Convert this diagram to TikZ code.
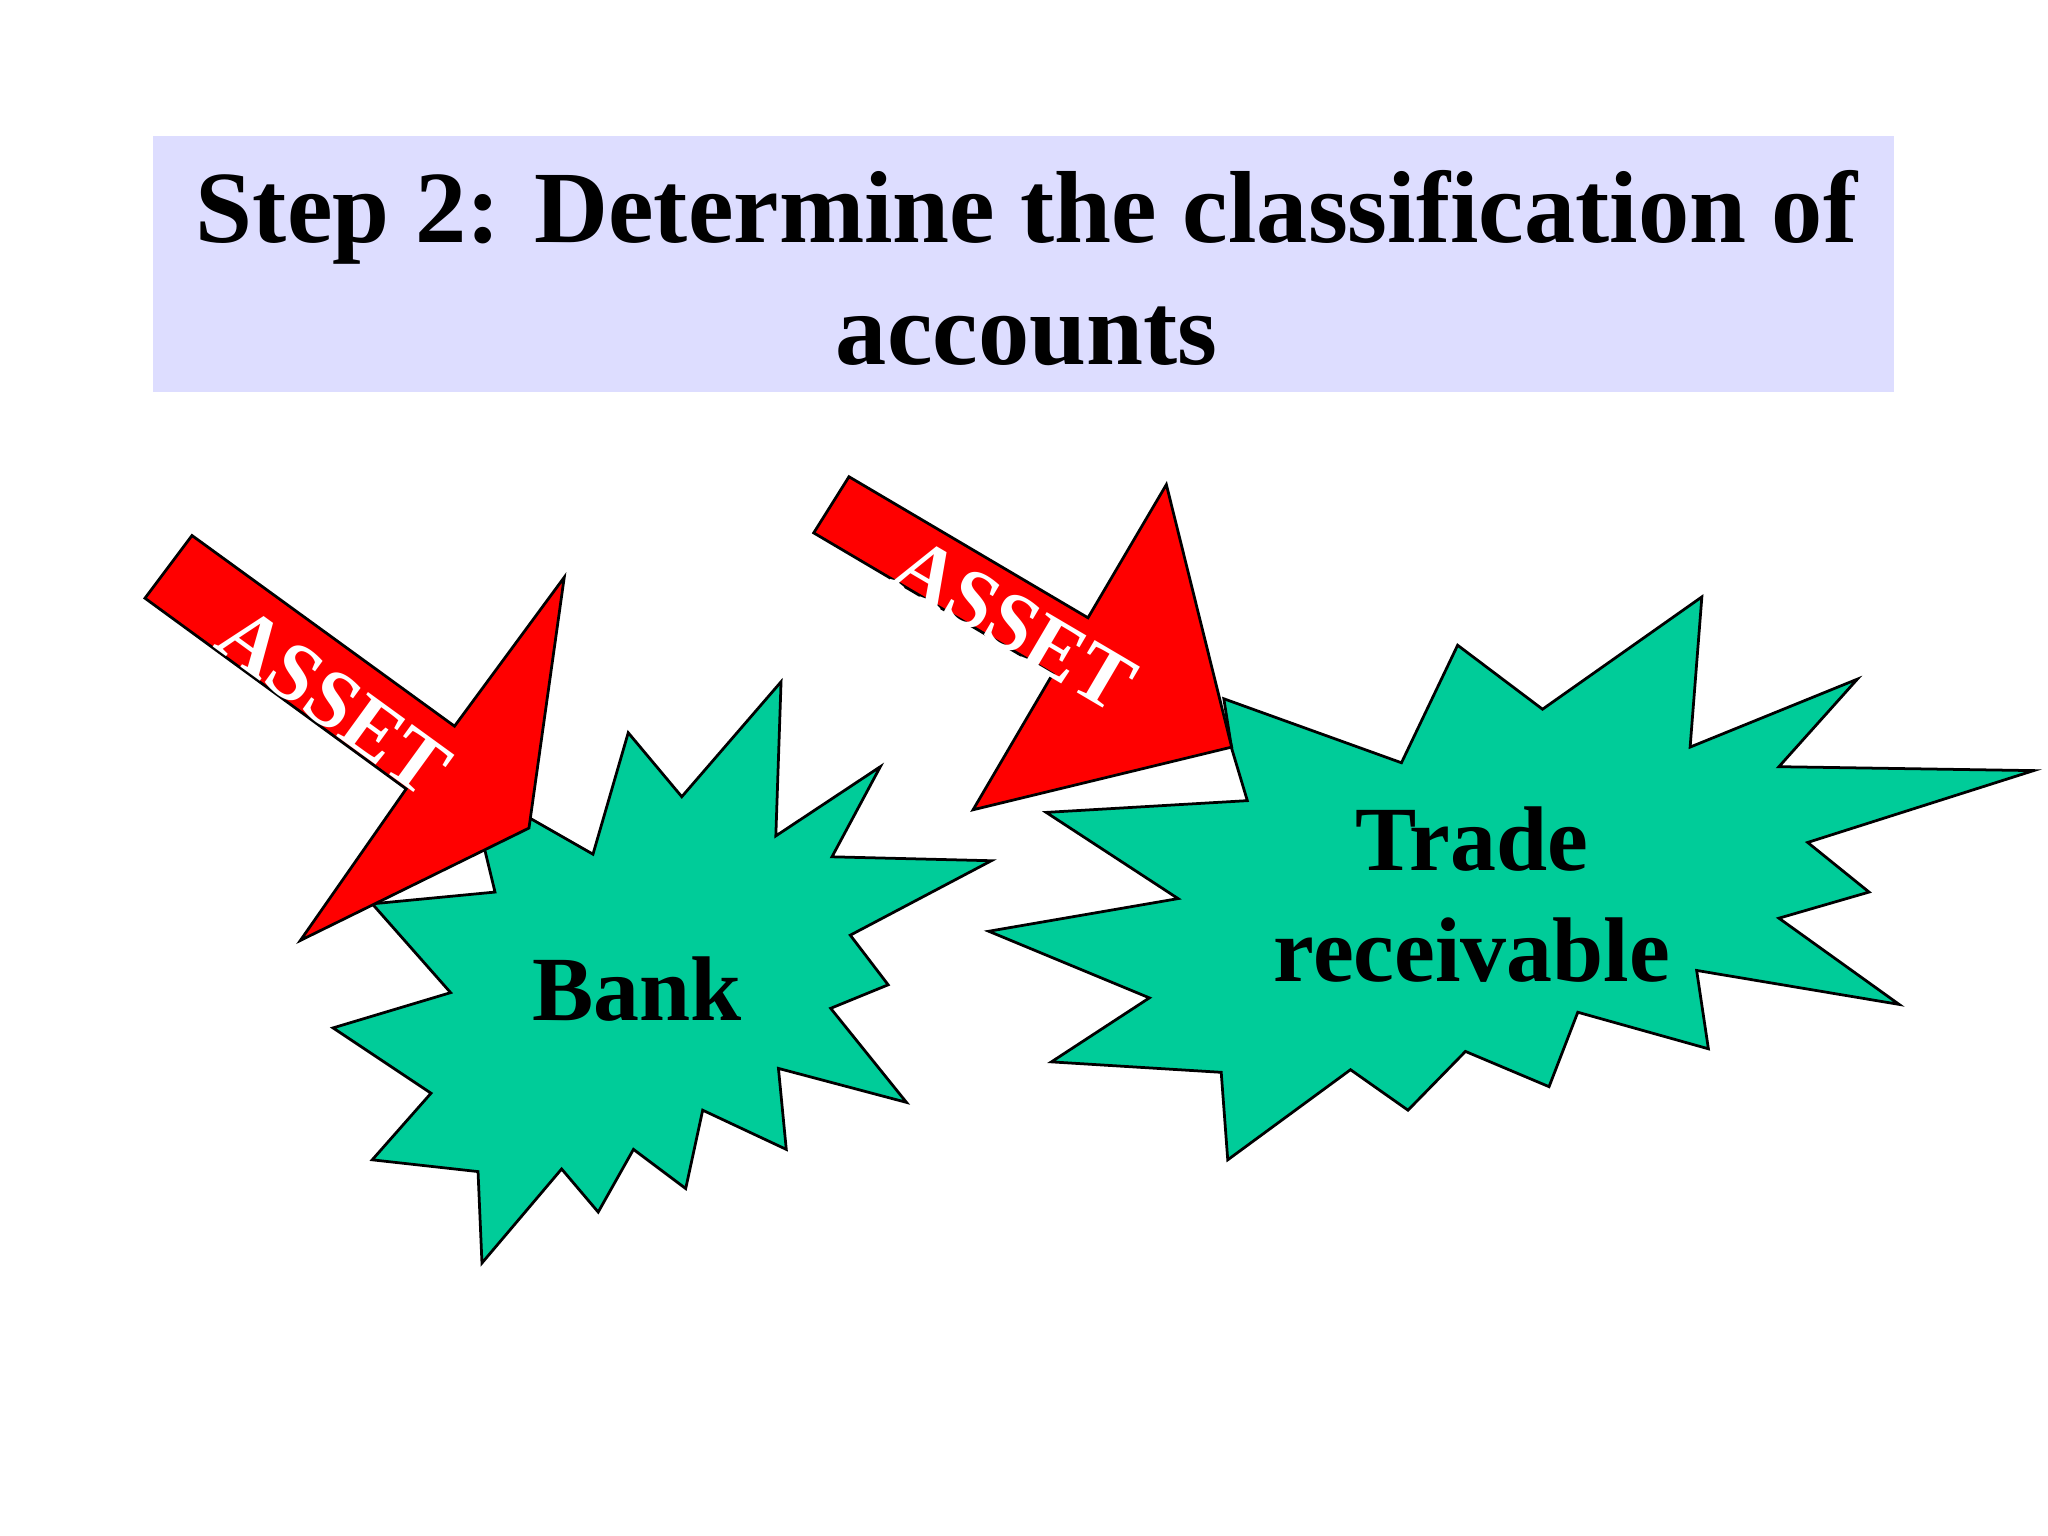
\documentclass[tikz,border=0pt]{standalone}
\usepackage{fontspec}
\setmainfont{Liberation Serif}
\begin{document}
\begin{tikzpicture}[x=0.01cm,y=-0.01cm,
 star/.style={draw=black,fill=starg,line width=0.6pt},
 arr/.style={draw=black,fill=red,line width=0.6pt},
 lab/.style={font=\bfseries\fontsize{18}{18}\selectfont,text=white}]
\definecolor{starg}{HTML}{00CC99}
\definecolor{titlebg}{HTML}{DDDDFF}
\useasboundingbox (0,0) rectangle (1568,1176);
\fill[titlebg] (117,104) rectangle (1450,300);
\node[align=center,font=\bfseries\fontsize{22.3}{26.5}\selectfont] (title) at (786,205) {Step 2: Determine the classification of\\accounts};
\draw[star] (371,650)--(379,683)--(285,692)--(345,760)--(255,787)--(330,837)--(285,888)--(366,897)--(369,967)--(430,895)--(458,928)--(485,880)--(525,910)--(538,850)--(602,880)--(596,818)--(694,844)--(636,772)--(680,754)--(651,716)--(759,659)--(637,656)--(674,587)--(594,640)--(598,522)--(522,610)--(481,561)--(454,654)--(405,626)--cycle;
\node[font=\bfseries\fontsize{20}{20}\selectfont] (bank) at (488,757) {Bank};
\draw[star] (937,535)--(1073,584)--(1116,494)--(1181,543)--(1303,457)--(1294,572)--(1422,520)--(1362,587)--(1557,590)--(1384,645)--(1431,683)--(1362,703)--(1454,769)--(1299,743)--(1308,803)--(1208,775)--(1186,832)--(1122,805)--(1078,850)--(1034,819)--(940,888)--(935,821)--(805,813)--(880,764)--(757,713)--(902,688)--(801,622)--(955,613)--(943,573)--cycle;
\node[align=center,font=\bfseries\fontsize{20}{24}\selectfont] (tr) at (1127,685) {Trade\\receivable};
\draw[arr] (111,458)--(147,410)--(348,556)--(432,442)--(405,634)--(230,720)--(311,604)--cycle;
\node[lab,rotate=-36] (a1) at (256,537) {ASSET};
\draw[arr] (623,408)--(650,365)--(833,473)--(893,371)--(943,572)--(745,620)--(806,516)--cycle;
\node[lab,rotate=-30.5] (a2) at (777,478) {ASSET};
\end{tikzpicture}
\end{document}
